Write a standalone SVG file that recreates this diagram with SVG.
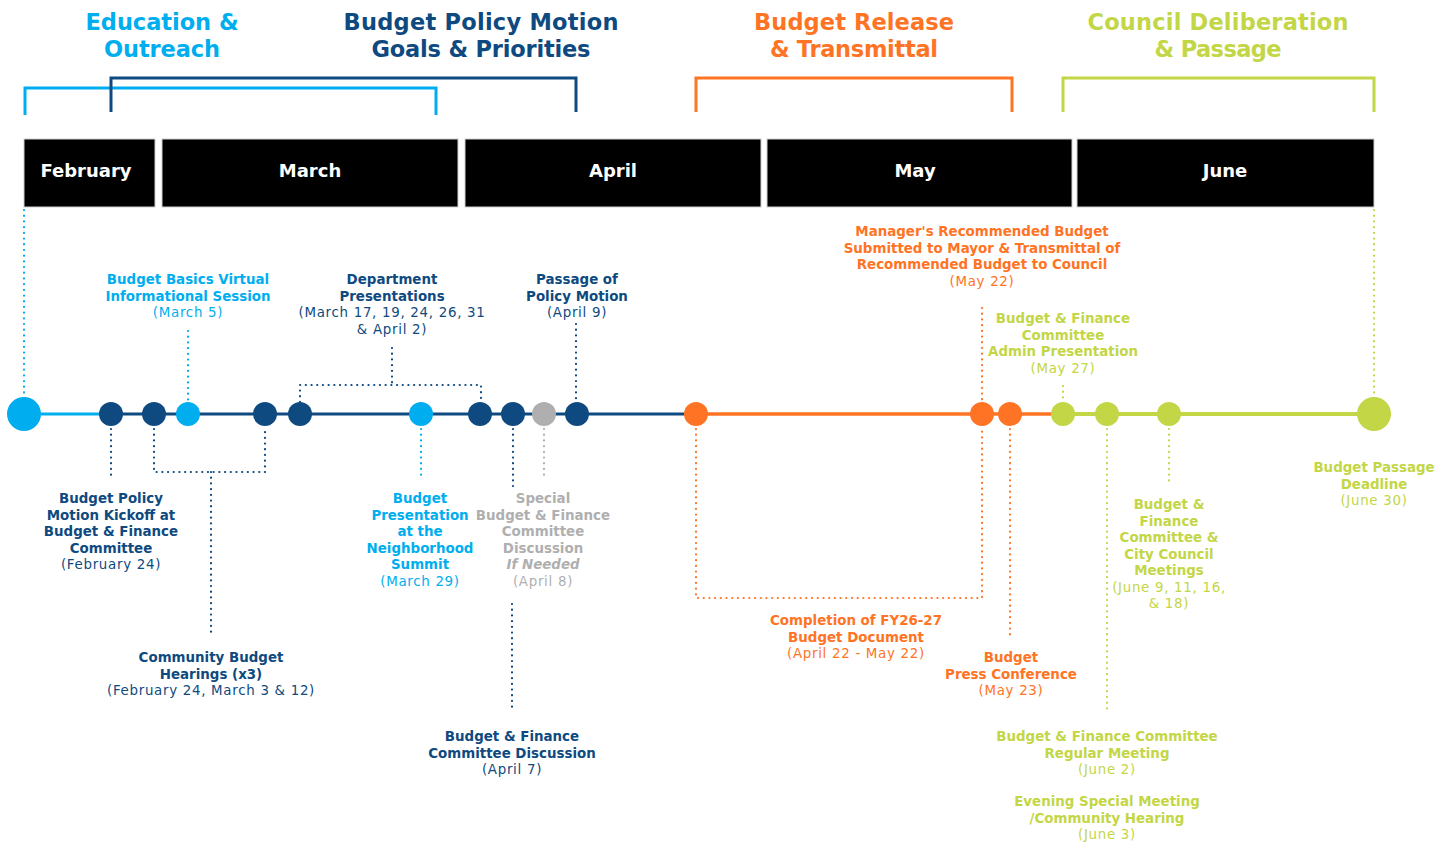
<svg xmlns="http://www.w3.org/2000/svg" width="1441" height="844" viewBox="0 0 1441 844">
<style>
text{font-family:"DejaVu Sans","Liberation Sans",sans-serif;text-anchor:middle}
.h{font-size:22.5px;font-weight:700}
.t{font-size:13.4px;font-weight:700}
.d{font-size:13.4px;font-weight:400;letter-spacing:0.7px}
.m{font-size:18px;font-weight:700;fill:#fff}
.lb{fill:#00AEEF}.nv{fill:#0E4A80}.or{fill:#FF7424}.lm{fill:#C3D645}.gr{fill:#AFAFAF}
.dot{fill:none;stroke-width:2.2;stroke-linecap:round;stroke-dasharray:0.1 5.6}
.br{fill:none;stroke-width:3}
.bar{fill:#000;stroke:#cfcfcf;stroke-width:1}
</style>
<rect width="1441" height="844" fill="#fff"/>
<g id="headings">
<text class="h lb" x="162" y="30" textLength="153" lengthAdjust="spacing">Education &amp;</text>
<text class="h lb" x="162" y="57" textLength="116" lengthAdjust="spacing">Outreach</text>
<text class="h nv" x="481" y="30" textLength="275" lengthAdjust="spacing">Budget Policy Motion</text>
<text class="h nv" x="481" y="57" textLength="219" lengthAdjust="spacing">Goals &amp; Priorities</text>
<text class="h or" x="854" y="30" textLength="200" lengthAdjust="spacing">Budget Release</text>
<text class="h or" x="854" y="57" textLength="168" lengthAdjust="spacing">&amp; Transmittal</text>
<text class="h lm" x="1218" y="30" textLength="261" lengthAdjust="spacing">Council Deliberation</text>
<text class="h lm" x="1218" y="57" textLength="127" lengthAdjust="spacing">&amp; Passage</text>
</g>
<g id="brackets">
<path class="br" stroke="#00AEEF" d="M25 115V88H436V115"/>
<path class="br" stroke="#0E4A80" d="M111 112V78H576V112"/>
<path class="br" stroke="#FF7424" d="M696 112V78H1012V112"/>
<path class="br" stroke="#C3D645" d="M1063 112V78H1374V112"/>
</g>
<g id="months">
<rect class="bar" x="24" y="139" width="131" height="68"/>
<text class="m" x="86" y="177">February</text>
<rect class="bar" x="162" y="139" width="296" height="68"/>
<text class="m" x="310" y="177">March</text>
<rect class="bar" x="465" y="139" width="296" height="68"/>
<text class="m" x="613" y="177">April</text>
<rect class="bar" x="767" y="139" width="305" height="68"/>
<text class="m" x="915" y="177">May</text>
<rect class="bar" x="1077" y="139" width="297" height="68"/>
<text class="m" x="1225" y="177">June</text>
</g>
<g id="connectors">
<line x1="24" y1="414" x2="111" y2="414" stroke="#00AEEF" stroke-width="3"/>
<line x1="111" y1="414" x2="696" y2="414" stroke="#0E4A80" stroke-width="3"/>
<line x1="696" y1="414" x2="1063" y2="414" stroke="#FF7424" stroke-width="3.5"/>
<line x1="1063" y1="414" x2="1374" y2="414" stroke="#C3D645" stroke-width="4"/>
<path class="dot" stroke="#00AEEF" d="M24 210V396M188 331V400M421 429V475"/>
<path class="dot" stroke="#0E4A80" d="M392 348V385M300 402V385H481V402M576 324V401M111 429V476M154 429V472H265V429M211 472V636M513 429V486M512 604V710"/>
<path class="dot" stroke="#AFAFAF" d="M544 429V476"/>
<path class="dot" stroke="#FF7424" d="M982 308V400M696 429V598H982V429M1010 429V637"/>
<path class="dot" stroke="#C3D645" d="M1063 386V400M1107 429V710M1169 429V482M1374 210V396"/>
</g>
<g id="n-feb-start"><circle cx="24" cy="414" r="17" fill="#00AEEF"/></g>
<g id="n-kickoff"><circle cx="111" cy="414" r="12" fill="#0E4A80"/>
<text class="t nv" x="111" y="503">Budget Policy</text><text class="t nv" x="111" y="519.5">Motion Kickoff at</text><text class="t nv" x="111" y="536">Budget &amp; Finance</text><text class="t nv" x="111" y="552.5">Committee</text><text class="d nv" x="111" y="569">(February 24)</text></g>
<g id="n-hearings"><circle cx="154" cy="414" r="12" fill="#0E4A80"/><circle cx="265" cy="414" r="12" fill="#0E4A80"/>
<text class="t nv" x="211" y="662">Community Budget</text><text class="t nv" x="211" y="678.5">Hearings (x3)</text><text class="d nv" x="211" y="695">(February 24, March 3 &amp; 12)</text></g>
<g id="n-basics"><circle cx="188" cy="414" r="12" fill="#00AEEF"/>
<text class="t lb" x="188" y="284">Budget Basics Virtual</text><text class="t lb" x="188" y="300.5">Informational Session</text><text class="d lb" x="188" y="317">(March 5)</text></g>
<g id="n-dept"><circle cx="300" cy="414" r="12" fill="#0E4A80"/><circle cx="480" cy="414" r="12" fill="#0E4A80"/>
<text class="t nv" x="392" y="284">Department</text><text class="t nv" x="392" y="300.5">Presentations</text><text class="d nv" x="392" y="317">(March 17, 19, 24, 26, 31</text><text class="d nv" x="392" y="333.5">&amp; April 2)</text></g>
<g id="n-summit"><circle cx="421" cy="414" r="12" fill="#00AEEF"/>
<text class="t lb" x="420" y="503">Budget</text><text class="t lb" x="420" y="519.5">Presentation</text><text class="t lb" x="420" y="536">at the</text><text class="t lb" x="420" y="552.5">Neighborhood</text><text class="t lb" x="420" y="569">Summit</text><text class="d lb" x="420" y="585.5">(March 29)</text></g>
<g id="n-bfc-apr7"><circle cx="513" cy="414" r="12" fill="#0E4A80"/>
<text class="t nv" x="512" y="741">Budget &amp; Finance</text><text class="t nv" x="512" y="757.5">Committee Discussion</text><text class="d nv" x="512" y="774">(April 7)</text></g>
<g id="n-special"><circle cx="544" cy="414" r="12" fill="#AFAFAF"/>
<text class="t gr" x="543" y="503">Special</text><text class="t gr" x="543" y="519.5">Budget &amp; Finance</text><text class="t gr" x="543" y="536">Committee</text><text class="t gr" x="543" y="552.5">Discussion</text><text class="t gr" x="543" y="569" font-style="italic">If Needed</text><text class="d gr" x="543" y="585.5">(April 8)</text></g>
<g id="n-passage"><circle cx="577" cy="414" r="12" fill="#0E4A80"/>
<text class="t nv" x="577" y="284">Passage of</text><text class="t nv" x="577" y="300.5">Policy Motion</text><text class="d nv" x="577" y="317">(April 9)</text></g>
<g id="n-completion"><circle cx="696" cy="414" r="12" fill="#FF7424"/>
<text class="t or" x="856" y="625">Completion of FY26-27</text><text class="t or" x="856" y="641.5">Budget Document</text><text class="d or" x="856" y="658">(April 22 - May 22)</text></g>
<g id="n-manager"><circle cx="982" cy="414" r="12" fill="#FF7424"/>
<text class="t or" x="982" y="236">Manager's Recommended Budget</text><text class="t or" x="982" y="252.5">Submitted to Mayor &amp; Transmittal of</text><text class="t or" x="982" y="269">Recommended Budget to Council</text><text class="d or" x="982" y="285.5">(May 22)</text></g>
<g id="n-press"><circle cx="1010" cy="414" r="12" fill="#FF7424"/>
<text class="t or" x="1011" y="662">Budget</text><text class="t or" x="1011" y="678.5">Press Conference</text><text class="d or" x="1011" y="695">(May 23)</text></g>
<g id="n-admin"><circle cx="1063" cy="414" r="12" fill="#C3D645"/>
<text class="t lm" x="1063" y="323">Budget &amp; Finance</text><text class="t lm" x="1063" y="339.5">Committee</text><text class="t lm" x="1063" y="356">Admin Presentation</text><text class="d lm" x="1063" y="372.5">(May 27)</text></g>
<g id="n-june2"><circle cx="1107" cy="414" r="12" fill="#C3D645"/>
<text class="t lm" x="1107" y="741">Budget &amp; Finance Committee</text><text class="t lm" x="1107" y="757.5">Regular Meeting</text><text class="d lm" x="1107" y="774">(June 2)</text>
<text class="t lm" x="1107" y="806">Evening Special Meeting</text><text class="t lm" x="1107" y="822.5">/Community Hearing</text><text class="d lm" x="1107" y="839">(June 3)</text></g>
<g id="n-june-meetings"><circle cx="1169" cy="414" r="12" fill="#C3D645"/>
<text class="t lm" x="1169" y="509">Budget &amp;</text><text class="t lm" x="1169" y="525.5">Finance</text><text class="t lm" x="1169" y="542">Committee &amp;</text><text class="t lm" x="1169" y="558.5">City Council</text><text class="t lm" x="1169" y="575">Meetings</text><text class="d lm" x="1169" y="591.5">(June 9, 11, 16,</text><text class="d lm" x="1169" y="608">&amp; 18)</text></g>
<g id="n-deadline"><circle cx="1374" cy="414" r="17" fill="#C3D645"/>
<text class="t lm" x="1374" y="472">Budget Passage</text><text class="t lm" x="1374" y="488.5">Deadline</text><text class="d lm" x="1374" y="505">(June 30)</text></g>
</svg>
